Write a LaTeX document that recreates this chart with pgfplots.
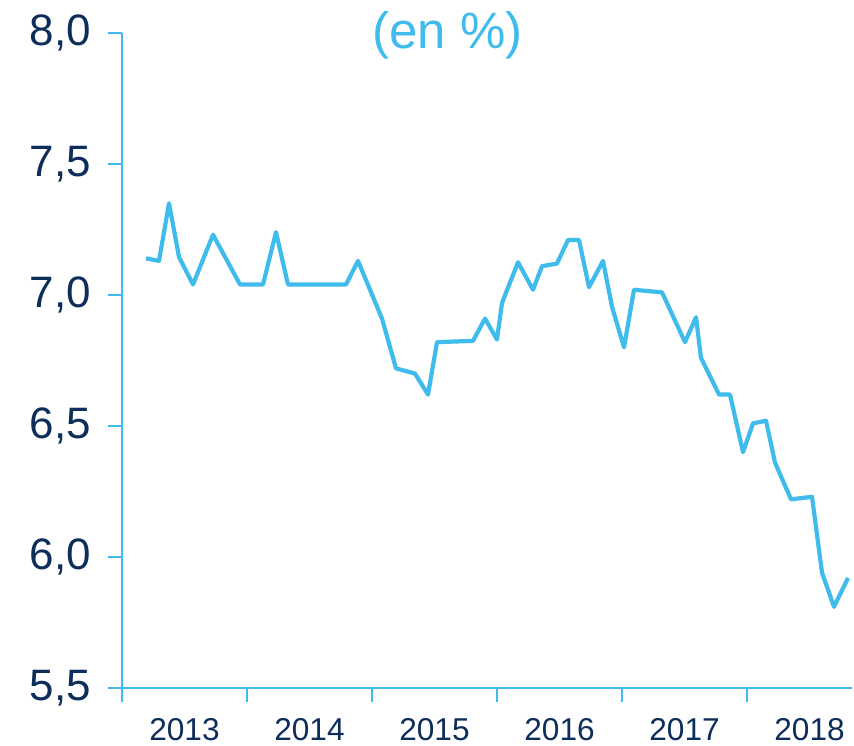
\documentclass[border=0pt]{standalone}
\usepackage{fontspec}
\setmainfont{Liberation Sans}
\usepackage{pgfplots}
\pgfplotsset{compat=1.18}

\definecolor{lineblue}{HTML}{3FBBEC}
\definecolor{navy}{HTML}{0D2D5A}

\begin{document}
\begin{tikzpicture}
  % page = 854 x 745 px at 0.5pt per px
  \path[use as bounding box] (-61pt,-28.5pt) rectangle (366pt,344pt);
  \begin{axis}[
      at={(0pt,0pt)}, anchor=south west,
      scale only axis,
      width=365pt, height=327.5pt,
      xmin=2013, xmax=2018.84,
      ymin=5.5, ymax=8.0,
      axis lines*=left,
      axis line style={lineblue, line width=0.8pt},
      clip=false,
      ytick={5.5,6.0,...,8.0},
      yticklabel style={
        /pgf/number format/fixed,
        /pgf/number format/fixed zerofill,
        /pgf/number format/precision=1,
        /pgf/number format/use comma,
        /pgf/number format/assume math mode=true,
        font=\fontsize{22}{24}\selectfont, text=navy, xshift=-5pt
      },
      y tick style={lineblue, line width=0.8pt},
      major tick length=7pt,
      tick align=outside,
      xtick={2013,...,2018},
      xticklabels={},
      x tick style={lineblue, line width=0.8pt},
      extra x ticks={2013.5,2014.5,2015.5,2016.5,2017.5,2018.5},
      extra x tick labels={2013,2014,2015,2016,2017,2018},
      extra x tick style={major tick length=0pt,
        xticklabel style={font=\fontsize{15.8}{17}\selectfont, text=navy, yshift=-11.5pt}},
    ]
    \addplot[lineblue, line width=2.1pt, line join=round] coordinates {
      (2013.192,7.14) (2013.296,7.13) (2013.376,7.35) (2013.456,7.145)
      (2013.568,7.04) (2013.728,7.23) (2013.944,7.04) (2014.128,7.04)
      (2014.232,7.24) (2014.328,7.04) (2014.792,7.04) (2014.888,7.13)
      (2015.080,6.91) (2015.192,6.72) (2015.344,6.70) (2015.448,6.62)
      (2015.520,6.82) (2015.808,6.825) (2015.904,6.91) (2016.000,6.83)
      (2016.040,6.97) (2016.168,7.125) (2016.288,7.02) (2016.360,7.11)
      (2016.480,7.12) (2016.568,7.21) (2016.656,7.21) (2016.736,7.03)
      (2016.848,7.13) (2016.920,6.955) (2017.016,6.80) (2017.096,7.02)
      (2017.320,7.01) (2017.504,6.82) (2017.592,6.915) (2017.632,6.76)
      (2017.776,6.62) (2017.864,6.62) (2017.968,6.40) (2018.048,6.51)
      (2018.152,6.52) (2018.224,6.36) (2018.352,6.22) (2018.520,6.23)
      (2018.600,5.94) (2018.696,5.81) (2018.808,5.92)
    };
    \node[text=lineblue, font=\fontsize{25.5}{28}\selectfont, anchor=center]
      at (rel axis cs:0.446,0.996) {(en \%)};
  \end{axis}
\end{tikzpicture}
\end{document}
